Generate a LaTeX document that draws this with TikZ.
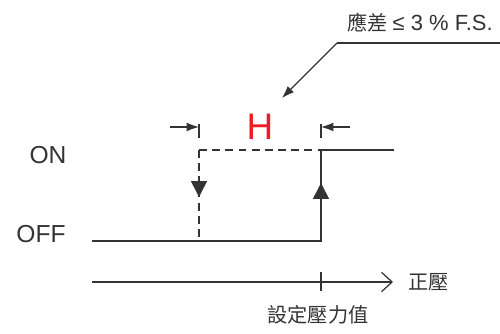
\documentclass[tikz,border=0pt]{standalone}
\usepackage{fontspec}
\setmainfont{Liberation Sans}
\newfontfamily\cjk{Noto Sans CJK TC}
\usetikzlibrary{arrows.meta,positioning}
\definecolor{swGray}{HTML}{333333}
\definecolor{swRed}{HTML}{EE1C25}
\tikzset{
    sig/.style={line width=0.9pt,draw=swGray},
    sigdash/.style={sig,dash pattern=on 4.5pt off 3pt},
    lbl/.style={text=swGray,inner sep=0pt,font=\fontsize{14}{16}\selectfont},
    cjklbl/.style={text=swGray,inner sep=0pt,font=\cjk\fontsize{11.5}{14}\selectfont},
    dimarrow/.style={-{Latex[length=7pt,width=5pt]},line width=0.7pt,draw=swGray},
    flowtip/.style={-{Triangle[length=9pt,width=9pt]},draw=swGray,fill=swGray,line width=0.9pt}
}

\begin{document}
\begin{tikzpicture}[x=0.02cm,y=-0.02cm]
\useasboundingbox (0,0) rectangle (500,334);

% switching points
\coordinate (offstart) at (92,241);
\coordinate (offpt) at (199,241);
\coordinate (onpt) at (321,241);
\coordinate (ontop) at (321,150);
\coordinate (offtop) at (199,150);
\coordinate (onend) at (394,150);

% levels
\node[lbl] (on) at (48,155) {ON};
\node[lbl] (off) at (41,234) {OFF};

% output curve
\draw[sig] (offstart) -- (onpt) -- (ontop) -- (onend);
\draw[sigdash] (offtop) -- (ontop);
\draw[sigdash] (offtop) -- (offpt);

% direction marks
\draw[flowtip] (199,182) -- (199,197);
\draw[flowtip] (321,198) -- (321,183);

% hysteresis width
\draw[swGray,line width=0.7pt] (199,124) -- (199,138);
\draw[swGray,line width=0.7pt] (321,124) -- (321,138);
\draw[dimarrow] (170,127) -- (199,127);
\draw[dimarrow] (350,127) -- (321,127);
\node[text=swRed,inner sep=0pt,font=\fontsize{21}{24}\selectfont] (hlabel) at (260,127) {H};

% callout
\node[cjklbl,anchor=east] (fs) at (493,23) {應差 {\fontspec{Liberation Sans}\fontsize{12.5}{14}\selectfont ≤ 3 \% F.S.}};
\coordinate (kink) at (337,43);
\coordinate (kinkend) at (500,43);
\coordinate (fstip) at (282,98);
\draw[swGray,line width=0.7pt] (kinkend) -- (kink);
\draw[dimarrow] (kink) -- (fstip);

% pressure axis
\coordinate (axstart) at (92,282);
\coordinate (axend) at (393,282);
\draw[swGray,line width=0.7pt,-{Straight Barb[length=6pt,width=11pt]}] (axstart) -- (axend);
\draw[swGray,line width=0.7pt] (321,272) -- (321,291);
\node[cjklbl,anchor=west] (pressure) at (408,282) {正壓};
\node[cjklbl] (setpoint) at (318,315) {設定壓力值};
\end{tikzpicture}
\end{document}
